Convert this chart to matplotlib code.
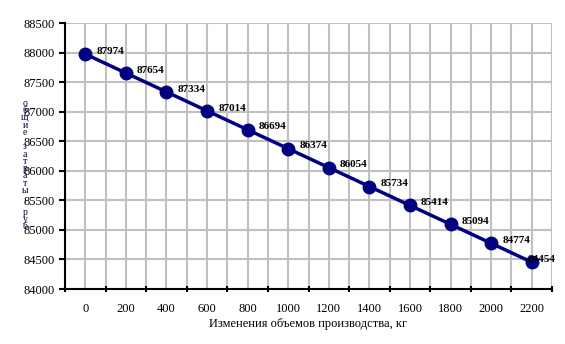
import numpy as np
import matplotlib.pyplot as plt

# volume change categories and total cost
volumes = ['0', '200', '400', '600', '800', '1000', '1200', '1400', '1600', '1800', '2000', '2200']
costs = [87974, 87654, 87334, 87014, 86694, 86374, 86054, 85734, 85414, 85094, 84774, 84454]
y_ticks = [84000, 84500, 85000, 85500, 86000, 86500, 87000, 87500, 88000, 88500]
x_title = 'Изменения объемов производства, кг'
y_title = 'Общие затраты, руб'

plt.rcParams['font.family'] = ['Liberation Serif', 'DejaVu Serif']

fig = plt.figure(figsize=(5.65, 3.44), dpi=100)
ax = fig.add_axes([65 / 565, 1 - 289 / 344, (552 - 65) / 565, (289 - 23) / 344])

x = np.arange(len(volumes))
ax.plot(x, costs, color='#000080', lw=2.5, marker='o', ms=9, zorder=5)
for xi, c in zip(x, costs):
    # the last label sits over its marker so it stays inside the figure
    dx = 8 if xi < len(volumes) - 1 else -3
    ax.annotate(str(c), (xi, c), xytext=(dx, 2), textcoords='offset points',
                fontsize=8, fontweight='bold', va='center', ha='left', zorder=6)

ax.set_xlim(-0.5, len(volumes) - 0.5)
ax.set_ylim(84000, 88500)
ax.set_yticks(y_ticks)
ax.set_yticklabels([str(v) for v in y_ticks], fontsize=9)

# category axis: labels at centres, tick marks on boundaries
ax.set_xticks(x)
ax.set_xticklabels(volumes, fontsize=9)
ax.set_xticks(np.arange(-0.5, len(volumes)), minor=True)
ax.tick_params(axis='x', which='major', length=0, pad=10)
ax.tick_params(axis='x', which='minor', length=4, width=1.5, direction='inout')
ax.tick_params(axis='y', length=4, width=1.5, direction='out')

ax.grid(True, which='both', axis='x', color='#c0c0c0', lw=1.5)
ax.grid(True, which='major', axis='y', color='#c0c0c0', lw=1.5)
ax.set_axisbelow(True)

for s in ['top', 'right']:
    ax.spines[s].set_visible(False)
for s in ['left', 'bottom']:
    ax.spines[s].set_linewidth(1.5)

ax.set_xlabel(x_title, fontsize=9, labelpad=2)
fig.text(25 / 565, 1 - 165 / 344, '\n'.join(y_title.lower()), fontsize=7,
         ha='center', va='center', linespacing=0.75, color='#000040')

fig.savefig('out.png', dpi=100)
